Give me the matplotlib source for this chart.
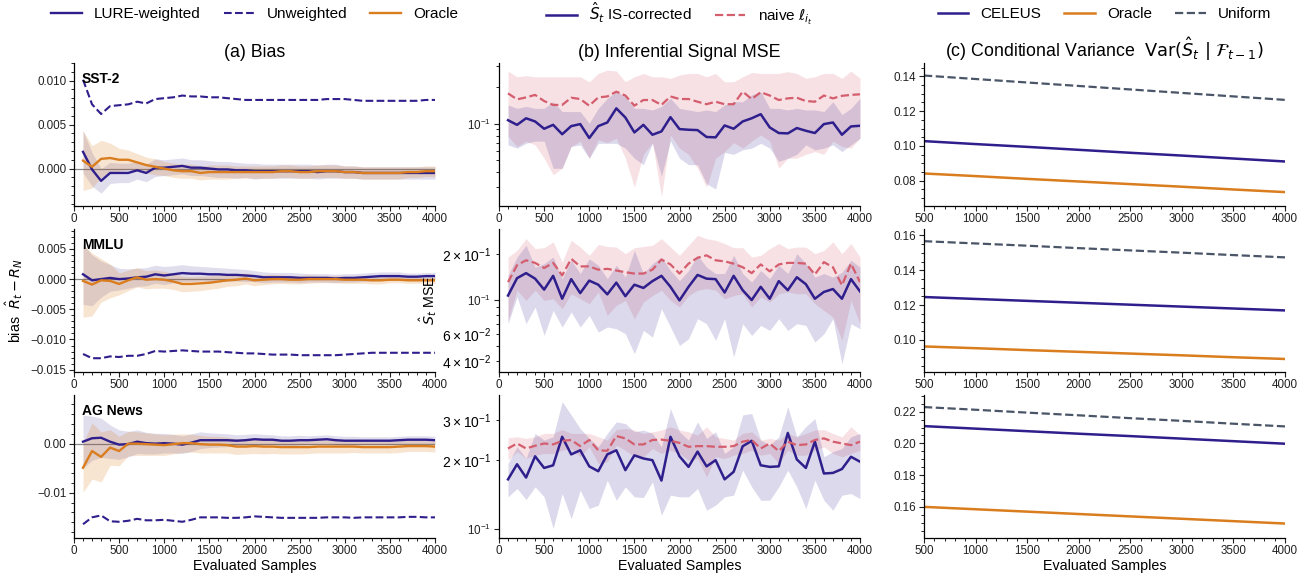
import numpy as np
import matplotlib.pyplot as plt

plt.rcParams['font.family'] = ['Liberation Sans', 'DejaVu Sans']
plt.rcParams['mathtext.fontset'] = 'dejavusans'
plt.rcParams['axes.spines.top'] = False
plt.rcParams['axes.spines.right'] = False
plt.rcParams['axes.linewidth'] = 0.9
plt.rcParams['xtick.minor.visible'] = True
plt.rcParams['ytick.minor.visible'] = True

# colours
c_lure = '#2f1f8c'
c_orac = '#d97d1e'
c_naive = '#d45d6e'
c_unif = '#4a5568'

# ---------------- data ----------------
steps = [100, 200, 300, 400, 500, 600, 700, 800, 900, 1000,
         1100, 1200, 1300, 1400, 1500, 1600, 1700, 1800, 1900, 2000,
         2100, 2200, 2300, 2400, 2500, 2600, 2700, 2800, 2900, 3000,
         3100, 3200, 3300, 3400, 3500, 3600, 3700, 3800, 3900, 4000]
steps_c = [500, 1000, 1500, 2000, 2500, 3000, 3500, 4000]
datasets = ['SST-2', 'MMLU', 'AG News']

# (a) bias
sst_lure = [0.0019, -0.0001, -0.0014, -0.0005, -0.0005, -0.0005, -0.0002, -0.0005, 0.0001, 0.0001,
            0.0002, 0.0003, 0.0001, 0.0001, 0.0000, -0.0001, -0.0001, -0.0002, -0.0002, -0.0003,
            -0.0003, -0.0003, -0.0003, -0.0003, -0.0003, -0.0003, -0.0004, -0.0003, -0.0003, -0.0004,
            -0.0004, -0.0005, -0.0005, -0.0005, -0.0005, -0.0005, -0.0005, -0.0005, -0.0005, -0.0005]
sst_lure_sd = [0.0024, 0.0019, 0.0014, 0.0012, 0.0011, 0.0011, 0.0010, 0.0010, 0.0010, 0.0009,
               0.0009, 0.0009, 0.0009, 0.0009, 0.0009, 0.0009, 0.0009, 0.0009, 0.0008, 0.0009,
               0.0008, 0.0008, 0.0008, 0.0008, 0.0008, 0.0008, 0.0008, 0.0008, 0.0008, 0.0007,
               0.0007, 0.0007, 0.0007, 0.0007, 0.0007, 0.0007, 0.0007, 0.0007, 0.0007, 0.0007]
sst_orac = [0.0009, 0.0002, 0.0011, 0.0012, 0.0010, 0.0010, 0.0007, 0.0004, 0.0002, 0.0000,
            -0.0002, -0.0003, -0.0003, -0.0005, -0.0004, -0.0004, -0.0004, -0.0004, -0.0004, -0.0004,
            -0.0004, -0.0004, -0.0003, -0.0003, -0.0004, -0.0004, -0.0003, -0.0003, -0.0003, -0.0004,
            -0.0004, -0.0005, -0.0005, -0.0005, -0.0005, -0.0005, -0.0004, -0.0004, -0.0003, -0.0003]
sst_orac_sd = [0.0034, 0.0024, 0.0021, 0.0017, 0.0013, 0.0011, 0.0010, 0.0009, 0.0009, 0.0008,
               0.0008, 0.0008, 0.0008, 0.0008, 0.0008, 0.0008, 0.0008, 0.0007, 0.0007, 0.0007,
               0.0007, 0.0007, 0.0007, 0.0007, 0.0007, 0.0007, 0.0007, 0.0007, 0.0007, 0.0007,
               0.0007, 0.0007, 0.0007, 0.0007, 0.0007, 0.0007, 0.0006, 0.0006, 0.0006, 0.0006]
sst_unw = [0.0101, 0.0073, 0.0062, 0.0071, 0.0072, 0.0073, 0.0076, 0.0074, 0.0079, 0.0080,
           0.0081, 0.0083, 0.0082, 0.0082, 0.0081, 0.0081, 0.0080, 0.0079, 0.0078, 0.0078,
           0.0078, 0.0078, 0.0078, 0.0078, 0.0078, 0.0078, 0.0078, 0.0079, 0.0079, 0.0079,
           0.0078, 0.0077, 0.0077, 0.0077, 0.0077, 0.0077, 0.0077, 0.0077, 0.0078, 0.0078]

mmlu_lure = [0.0008, -0.0002, 0.0000, 0.0002, 0.0000, 0.0001, 0.0003, 0.0004, 0.0008, 0.0006,
             0.0008, 0.0010, 0.0009, 0.0009, 0.0008, 0.0008, 0.0007, 0.0007, 0.0006, 0.0005,
             0.0003, 0.0003, 0.0003, 0.0003, 0.0002, 0.0002, 0.0002, 0.0002, 0.0001, 0.0002,
             0.0002, 0.0003, 0.0004, 0.0005, 0.0005, 0.0005, 0.0004, 0.0004, 0.0005, 0.0005]
mmlu_lure_sd = [0.0050, 0.0042, 0.0030, 0.0022, 0.0018, 0.0016, 0.0015, 0.0015, 0.0015, 0.0015,
                0.0014, 0.0014, 0.0013, 0.0012, 0.0012, 0.0011, 0.0011, 0.0010, 0.0010, 0.0009,
                0.0009, 0.0008, 0.0008, 0.0008, 0.0008, 0.0007, 0.0007, 0.0007, 0.0007, 0.0007,
                0.0007, 0.0007, 0.0007, 0.0007, 0.0007, 0.0007, 0.0006, 0.0006, 0.0006, 0.0006]
mmlu_orac = [-0.0003, -0.0009, -0.0002, -0.0003, -0.0008, -0.0002, 0.0003, -0.0001, 0.0000, -0.0001,
             -0.0004, -0.0008, -0.0008, -0.0007, -0.0006, -0.0004, -0.0002, -0.0001, 0.0001, -0.0002,
             -0.0001, 0.0000, 0.0000, -0.0001, -0.0001, 0.0000, 0.0000, 0.0000, 0.0000, -0.0001,
             -0.0001, -0.0001, -0.0002, -0.0002, -0.0001, -0.0001, -0.0002, -0.0002, -0.0002, -0.0002]
mmlu_orac_sd = [0.0060, 0.0052, 0.0036, 0.0028, 0.0018, 0.0017, 0.0016, 0.0015, 0.0015, 0.0014,
                0.0013, 0.0013, 0.0012, 0.0012, 0.0011, 0.0011, 0.0010, 0.0010, 0.0009, 0.0009,
                0.0008, 0.0008, 0.0007, 0.0007, 0.0007, 0.0007, 0.0006, 0.0006, 0.0006, 0.0006,
                0.0006, 0.0006, 0.0006, 0.0006, 0.0005, 0.0005, 0.0005, 0.0005, 0.0005, 0.0005]
mmlu_unw = [-0.0124, -0.0131, -0.0131, -0.0128, -0.0129, -0.0127, -0.0127, -0.0124, -0.0119, -0.0120,
            -0.0119, -0.0118, -0.0119, -0.0120, -0.0120, -0.0120, -0.0121, -0.0122, -0.0123, -0.0123,
            -0.0124, -0.0125, -0.0125, -0.0125, -0.0126, -0.0126, -0.0126, -0.0126, -0.0126, -0.0125,
            -0.0124, -0.0123, -0.0122, -0.0122, -0.0122, -0.0122, -0.0122, -0.0122, -0.0122, -0.0122]

ag_lure = [0.0004, 0.0011, 0.0012, 0.0004, -0.0002, -0.0001, 0.0004, 0.0001, 0.0000, 0.0001,
           0.0000, -0.0002, 0.0002, 0.0007, 0.0007, 0.0007, 0.0007, 0.0006, 0.0007, 0.0009,
           0.0008, 0.0008, 0.0006, 0.0006, 0.0007, 0.0007, 0.0008, 0.0009, 0.0007, 0.0006,
           0.0006, 0.0006, 0.0006, 0.0006, 0.0006, 0.0007, 0.0008, 0.0008, 0.0008, 0.0007]
ag_lure_sd = [0.0054, 0.0045, 0.0040, 0.0034, 0.0030, 0.0026, 0.0024, 0.0022, 0.0021, 0.0020,
              0.0019, 0.0018, 0.0018, 0.0017, 0.0015, 0.0014, 0.0013, 0.0012, 0.0012, 0.0011,
              0.0011, 0.0010, 0.0010, 0.0010, 0.0010, 0.0009, 0.0009, 0.0009, 0.0009, 0.0009,
              0.0009, 0.0008, 0.0008, 0.0008, 0.0008, 0.0008, 0.0008, 0.0008, 0.0008, 0.0008]
ag_orac = [-0.0049, -0.0015, -0.0027, -0.0008, -0.0015, 0.0000, 0.0000, -0.0001, -0.0002, -0.0003,
           -0.0001, 0.0001, 0.0001, -0.0001, -0.0002, -0.0002, -0.0003, -0.0006, -0.0006, -0.0005,
           -0.0006, -0.0006, -0.0007, -0.0007, -0.0007, -0.0007, -0.0006, -0.0006, -0.0006, -0.0006,
           -0.0006, -0.0007, -0.0007, -0.0007, -0.0007, -0.0006, -0.0005, -0.0005, -0.0005, -0.0006]
ag_orac_sd = [0.0050, 0.0057, 0.0051, 0.0036, 0.0030, 0.0025, 0.0024, 0.0023, 0.0022, 0.0021,
              0.0020, 0.0019, 0.0018, 0.0018, 0.0017, 0.0017, 0.0016, 0.0016, 0.0015, 0.0015,
              0.0015, 0.0014, 0.0014, 0.0014, 0.0014, 0.0013, 0.0013, 0.0013, 0.0013, 0.0013,
              0.0012, 0.0012, 0.0012, 0.0012, 0.0012, 0.0012, 0.0011, 0.0011, 0.0011, 0.0011]
ag_unw = [-0.0164, -0.0150, -0.0146, -0.0158, -0.0159, -0.0157, -0.0153, -0.0156, -0.0156, -0.0155,
          -0.0157, -0.0159, -0.0155, -0.0150, -0.0150, -0.0150, -0.0151, -0.0151, -0.0150, -0.0148,
          -0.0149, -0.0150, -0.0151, -0.0151, -0.0151, -0.0151, -0.0151, -0.0150, -0.0150, -0.0150,
          -0.0151, -0.0150, -0.0150, -0.0150, -0.0150, -0.0150, -0.0149, -0.0149, -0.0150, -0.0150]

# (b) inferential signal MSE
sst_is = [0.107, 0.098, 0.111, 0.1045, 0.091, 0.098, 0.082, 0.0957, 0.0994, 0.0763,
          0.0957, 0.1025, 0.134, 0.1127, 0.0849, 0.098, 0.0812, 0.0865, 0.1134, 0.0904,
          0.0893, 0.0887, 0.0778, 0.0773, 0.0969, 0.091, 0.1045, 0.111, 0.120, 0.0933,
          0.0839, 0.0833, 0.0922, 0.0876, 0.0839, 0.0994, 0.1025, 0.0812, 0.0951, 0.0963]
sst_is_lo = [0.067, 0.063, 0.069, 0.072, 0.072, 0.043, 0.043, 0.065, 0.067, 0.052,
             0.069, 0.069, 0.069, 0.063, 0.052, 0.046, 0.069, 0.037, 0.072, 0.052,
             0.046, 0.046, 0.032, 0.029, 0.058, 0.056, 0.061, 0.063, 0.069, 0.063,
             0.049, 0.052, 0.056, 0.067, 0.061, 0.063, 0.067, 0.059, 0.067, 0.076]
sst_is_hi = [0.143, 0.134, 0.139, 0.134, 0.134, 0.152, 0.126, 0.126, 0.126, 0.101,
             0.134, 0.162, 0.184, 0.168, 0.134, 0.134, 0.130, 0.139, 0.162, 0.134,
             0.130, 0.126, 0.130, 0.126, 0.143, 0.152, 0.152, 0.173, 0.184, 0.134,
             0.134, 0.130, 0.134, 0.130, 0.130, 0.126, 0.152, 0.119, 0.134, 0.162]
sst_nv = [0.178, 0.159, 0.165, 0.173, 0.154, 0.143, 0.143, 0.164, 0.160, 0.141,
          0.165, 0.168, 0.184, 0.171, 0.141, 0.157, 0.157, 0.143, 0.168, 0.160,
          0.160, 0.152, 0.145, 0.152, 0.145, 0.145, 0.184, 0.160, 0.182, 0.171,
          0.157, 0.162, 0.164, 0.154, 0.152, 0.171, 0.162, 0.170, 0.173, 0.175]
sst_nv_lo = [0.079, 0.065, 0.072, 0.067, 0.052, 0.038, 0.043, 0.065, 0.072, 0.052,
             0.074, 0.070, 0.076, 0.052, 0.030, 0.056, 0.070, 0.025, 0.081, 0.063,
             0.056, 0.043, 0.030, 0.052, 0.059, 0.070, 0.063, 0.072, 0.081, 0.072,
             0.043, 0.052, 0.052, 0.056, 0.059, 0.056, 0.072, 0.065, 0.063, 0.076]
sst_nv_hi = [0.272, 0.244, 0.249, 0.244, 0.244, 0.244, 0.244, 0.244, 0.244, 0.222,
             0.260, 0.277, 0.272, 0.222, 0.244, 0.260, 0.244, 0.244, 0.237, 0.252,
             0.260, 0.260, 0.244, 0.260, 0.222, 0.222, 0.244, 0.265, 0.260, 0.260,
             0.260, 0.269, 0.260, 0.237, 0.244, 0.260, 0.260, 0.237, 0.272, 0.237]

mmlu_is = [0.107, 0.139, 0.150, 0.138, 0.117, 0.144, 0.102, 0.137, 0.111, 0.134,
           0.126, 0.109, 0.130, 0.106, 0.126, 0.120, 0.133, 0.144, 0.122, 0.0995,
           0.122, 0.146, 0.138, 0.137, 0.112, 0.144, 0.116, 0.100, 0.122, 0.102,
           0.133, 0.116, 0.141, 0.127, 0.102, 0.113, 0.118, 0.102, 0.137, 0.114]
mmlu_is_lo = [0.070, 0.105, 0.070, 0.090, 0.0587, 0.0856, 0.0666, 0.0835, 0.0666, 0.0794,
              0.0618, 0.0666, 0.0649, 0.0602, 0.0446, 0.0633, 0.0573, 0.0878, 0.0666, 0.0505,
              0.0558, 0.0755, 0.070, 0.0545, 0.0755, 0.0424, 0.070, 0.0587, 0.0683, 0.0633,
              0.0755, 0.0633, 0.070, 0.0683, 0.0531, 0.0602, 0.0755, 0.0383, 0.070, 0.0649]
mmlu_is_hi = [0.145, 0.191, 0.228, 0.164, 0.173, 0.191, 0.138, 0.182, 0.149, 0.186,
              0.169, 0.138, 0.169, 0.141, 0.211, 0.149, 0.173, 0.191, 0.156, 0.134,
              0.156, 0.196, 0.164, 0.149, 0.149, 0.196, 0.149, 0.131, 0.156, 0.138,
              0.169, 0.149, 0.201, 0.173, 0.141, 0.149, 0.141, 0.152, 0.182, 0.164]
mmlu_nv = [0.131, 0.169, 0.182, 0.175, 0.162, 0.175, 0.145, 0.186, 0.166, 0.166,
           0.158, 0.160, 0.156, 0.152, 0.149, 0.149, 0.158, 0.184, 0.171, 0.149,
           0.173, 0.189, 0.196, 0.182, 0.179, 0.173, 0.164, 0.150, 0.171, 0.154,
           0.171, 0.175, 0.175, 0.173, 0.147, 0.177, 0.164, 0.125, 0.173, 0.131]
mmlu_nv_lo = [0.0736, 0.116, 0.0995, 0.116, 0.0995, 0.102, 0.0878, 0.110, 0.102, 0.0946,
              0.113, 0.0794, 0.0923, 0.0995, 0.0755, 0.097, 0.107, 0.116, 0.0995, 0.090,
              0.107, 0.116, 0.119, 0.116, 0.102, 0.107, 0.110, 0.090, 0.105, 0.097,
              0.110, 0.113, 0.110, 0.110, 0.0946, 0.0856, 0.0774, 0.0545, 0.0995, 0.070]
mmlu_nv_hi = [0.191, 0.211, 0.252, 0.217, 0.220, 0.240, 0.177, 0.246, 0.222, 0.196,
              0.231, 0.224, 0.222, 0.201, 0.220, 0.224, 0.228, 0.252, 0.222, 0.196,
              0.228, 0.265, 0.252, 0.246, 0.234, 0.220, 0.220, 0.191, 0.196, 0.217,
              0.234, 0.217, 0.222, 0.222, 0.201, 0.211, 0.240, 0.201, 0.234, 0.191]

ag_is = [0.165, 0.192, 0.168, 0.208, 0.185, 0.190, 0.253, 0.212, 0.221, 0.188,
         0.179, 0.212, 0.221, 0.181, 0.210, 0.2035, 0.200, 0.163, 0.253, 0.208,
         0.187, 0.218, 0.188, 0.200, 0.165, 0.178, 0.230, 0.243, 0.190, 0.187,
         0.188, 0.263, 0.2015, 0.185, 0.241, 0.175, 0.176, 0.183, 0.207, 0.197]
ag_is_lo = [0.1384, 0.1505, 0.1347, 0.153, 0.1384, 0.1007, 0.143, 0.1113, 0.148, 0.123,
            0.1273, 0.1637, 0.1338, 0.153, 0.1384, 0.1375, 0.161, 0.115, 0.1408, 0.1384,
            0.1384, 0.1505, 0.121, 0.1273, 0.1384, 0.1408, 0.181, 0.153, 0.1338, 0.1338,
            0.153, 0.181, 0.153, 0.123, 0.1637, 0.1338, 0.121, 0.1408, 0.143, 0.136]
ag_is_hi = [0.1935, 0.2288, 0.2035, 0.2617, 0.2447, 0.253, 0.360, 0.315, 0.275, 0.249,
            0.2288, 0.2617, 0.294, 0.289, 0.266, 0.2706, 0.2617, 0.2288, 0.336, 0.266,
            0.2447, 0.294, 0.249, 0.266, 0.214, 0.2288, 0.315, 0.320, 0.2447, 0.2327,
            0.253, 0.342, 0.253, 0.280, 0.304, 0.207, 0.218, 0.225, 0.253, 0.2617]
ag_nv = [0.225, 0.2366, 0.225, 0.2312, 0.2366, 0.2343, 0.243, 0.245, 0.2304, 0.245,
         0.221, 0.2198, 0.255, 0.249, 0.2343, 0.2343, 0.245, 0.246, 0.243, 0.238,
         0.2288, 0.2304, 0.2304, 0.2288, 0.2288, 0.2304, 0.241, 0.245, 0.225, 0.2366,
         0.2191, 0.241, 0.2327, 0.2343, 0.245, 0.249, 0.241, 0.2366, 0.2327, 0.241]
ag_nv_lo = [0.200, 0.218, 0.2035, 0.2104, 0.214, 0.214, 0.221, 0.225, 0.207, 0.2288,
            0.1935, 0.197, 0.2327, 0.221, 0.207, 0.207, 0.225, 0.214, 0.221, 0.214,
            0.200, 0.2035, 0.169, 0.207, 0.2035, 0.2104, 0.214, 0.221, 0.2104, 0.214,
            0.1935, 0.221, 0.2104, 0.2104, 0.221, 0.2288, 0.214, 0.207, 0.214, 0.221]
ag_nv_hi = [0.2505, 0.253, 0.249, 0.253, 0.2617, 0.2617, 0.272, 0.2617, 0.2617, 0.2617,
            0.253, 0.2447, 0.272, 0.275, 0.2706, 0.2617, 0.266, 0.2706, 0.280, 0.2706,
            0.266, 0.2573, 0.280, 0.253, 0.249, 0.2447, 0.2617, 0.266, 0.2447, 0.249,
            0.2447, 0.2617, 0.253, 0.2617, 0.2706, 0.272, 0.2617, 0.253, 0.280, 0.2573]

# (c) conditional variance
sst_var_celeus = [0.1028, 0.1011, 0.0995, 0.0978, 0.0961, 0.0945, 0.0928, 0.0911]
sst_var_oracle = [0.0842, 0.0827, 0.0811, 0.0796, 0.0781, 0.0766, 0.0750, 0.0735]
sst_var_unif = [0.1405, 0.1385, 0.1365, 0.1345, 0.1325, 0.1305, 0.1285, 0.1265]
mmlu_var_celeus = [0.1246, 0.1235, 0.1224, 0.1213, 0.1202, 0.1191, 0.1180, 0.1169]
mmlu_var_oracle = [0.0962, 0.0952, 0.0941, 0.0931, 0.0921, 0.0911, 0.0900, 0.0890]
mmlu_var_unif = [0.1567, 0.1554, 0.1541, 0.1527, 0.1514, 0.1501, 0.1487, 0.1474]
ag_var_celeus = [0.2109, 0.2093, 0.2077, 0.2061, 0.2046, 0.2030, 0.2014, 0.1998]
ag_var_oracle = [0.1600, 0.1585, 0.1570, 0.1555, 0.1540, 0.1525, 0.1510, 0.1495]
ag_var_unif = [0.2229, 0.2212, 0.2194, 0.2177, 0.2159, 0.2142, 0.2124, 0.2107]

bias_rows = [(sst_lure, sst_lure_sd, sst_orac, sst_orac_sd, sst_unw),
             (mmlu_lure, mmlu_lure_sd, mmlu_orac, mmlu_orac_sd, mmlu_unw),
             (ag_lure, ag_lure_sd, ag_orac, ag_orac_sd, ag_unw)]
mse_rows = [(sst_is, sst_is_lo, sst_is_hi, sst_nv, sst_nv_lo, sst_nv_hi),
            (mmlu_is, mmlu_is_lo, mmlu_is_hi, mmlu_nv, mmlu_nv_lo, mmlu_nv_hi),
            (ag_is, ag_is_lo, ag_is_hi, ag_nv, ag_nv_lo, ag_nv_hi)]
var_rows = [(sst_var_celeus, sst_var_oracle, sst_var_unif),
            (mmlu_var_celeus, mmlu_var_oracle, mmlu_var_unif),
            (ag_var_celeus, ag_var_oracle, ag_var_unif)]

bias_ylim = [(-0.0042, 0.012), (-0.0153, 0.0083), (-0.0191, 0.0099)]
bias_yticks = [[0.0, 0.005, 0.010], [-0.015, -0.010, -0.005, 0.0, 0.005], [-0.01, 0.0]]
mse_ylim = [(0.0212, 0.317), (0.0341, 0.2915), (0.092, 0.385)]
var_ylim = [(0.0658, 0.1477), (0.0818, 0.1637), (0.1407, 0.2305)]
var_yticks = [[0.08, 0.10, 0.12, 0.14], [0.10, 0.12, 0.14, 0.16], [0.16, 0.18, 0.20, 0.22]]

# ---------------- figure ----------------
W, H = 1312, 578
fig = plt.figure(figsize=(W / 100, H / 100), dpi=100)
col_left = [74, 499, 924]
col_w = 361
row_top = [63, 229, 395]
row_h = 142.5

axes = [[fig.add_axes([col_left[c] / W, 1 - (row_top[r] + row_h) / H, col_w / W, row_h / H])
         for c in range(3)] for r in range(3)]

tick_fs = 8.4
for r in range(3):
    for c in range(3):
        ax = axes[r][c]
        ax.tick_params(which='major', direction='out', length=3.5, width=0.8,
                       labelsize=tick_fs, colors='#222222', pad=2)
        ax.tick_params(which='minor', direction='out', length=2, width=0.6)

# column (a)
for r in range(3):
    ax = axes[r][0]
    lure, lure_sd, orac, orac_sd, unw = [np.array(v) for v in bias_rows[r]]
    ax.axhline(0, color='#888888', lw=0.9, zorder=1)
    ax.fill_between(steps, lure - lure_sd, lure + lure_sd, color=c_lure, alpha=0.15, lw=0)
    ax.fill_between(steps, orac - orac_sd, orac + orac_sd, color=c_orac, alpha=0.2, lw=0)
    ax.plot(steps, lure, color=c_lure, lw=1.7, label='LURE-weighted')
    ax.plot(steps, unw, color=c_lure, lw=1.5, ls='--', label='Unweighted')
    ax.plot(steps, orac, color=c_orac, lw=1.7, label='Oracle')
    ax.set_xlim(0, 4000)
    ax.set_xticks(range(0, 4001, 500))
    ax.set_ylim(*bias_ylim[r])
    ax.set_yticks(bias_yticks[r])
    ax.text(0.022, 0.885, datasets[r], transform=ax.transAxes, fontsize=10,
            fontweight='bold', va='center', ha='left')

# column (b)
for r in range(3):
    ax = axes[r][1]
    is_m, is_lo, is_hi, nv_m, nv_lo, nv_hi = mse_rows[r]
    ax.fill_between(steps, nv_lo, nv_hi, color=c_naive, alpha=0.18, lw=0)
    ax.fill_between(steps, is_lo, is_hi, color=c_lure, alpha=0.17, lw=0)
    ax.plot(steps, is_m, color=c_lure, lw=1.8, label=r'$\hat{S}_t$ IS-corrected', zorder=3)
    ax.plot(steps, nv_m, color=c_naive, lw=1.6, ls='--', label=r'naive $\ell_{i_t}$', zorder=3)
    ax.set_yscale('log')
    ax.set_xlim(0, 4000)
    ax.set_xticks(range(0, 4001, 500))
    ax.set_ylim(*mse_ylim[r])

# column (c)
for r in range(3):
    ax = axes[r][2]
    cel, orc, uni = var_rows[r]
    ax.plot(steps_c, cel, color=c_lure, lw=1.8, label='CELEUS')
    ax.plot(steps_c, orc, color=c_orac, lw=1.8, label='Oracle')
    ax.plot(steps_c, uni, color=c_unif, lw=1.6, ls='--', label='Uniform')
    ax.set_xlim(500, 4000)
    ax.set_xticks(range(500, 4001, 500))
    ax.set_ylim(*var_ylim[r])
    ax.set_yticks(var_yticks[r])

titles = ['(a) Bias', '(b) Inferential Signal MSE',
          r'(c) Conditional Variance  $\mathrm{Var}(\hat{S}_t\ |\ \mathcal{F}_{t-1})$']
for c in range(3):
    axes[0][c].set_title(titles[c], fontsize=12.8, pad=4)
    axes[2][c].set_xlabel('Evaluated Samples', fontsize=10.3, labelpad=1)

axes[1][0].set_ylabel(r'bias  $\hat{R}_t - R_N$', fontsize=10.3, labelpad=4)
axes[1][1].set_ylabel(r'$\hat{S}_t$ MSE', fontsize=10.3, labelpad=2)

for c in range(3):
    h, l = axes[0][c].get_legend_handles_labels()
    cx = (col_left[c] + col_w / 2) / W
    fig.legend(h, l, loc='center', bbox_to_anchor=(cx, 1 - 14 / H), ncol=len(h),
               frameon=False, fontsize=11, columnspacing=1.5, handlelength=2.0,
               handletextpad=0.8, borderaxespad=0)

fig.savefig('out.png', dpi=100)
